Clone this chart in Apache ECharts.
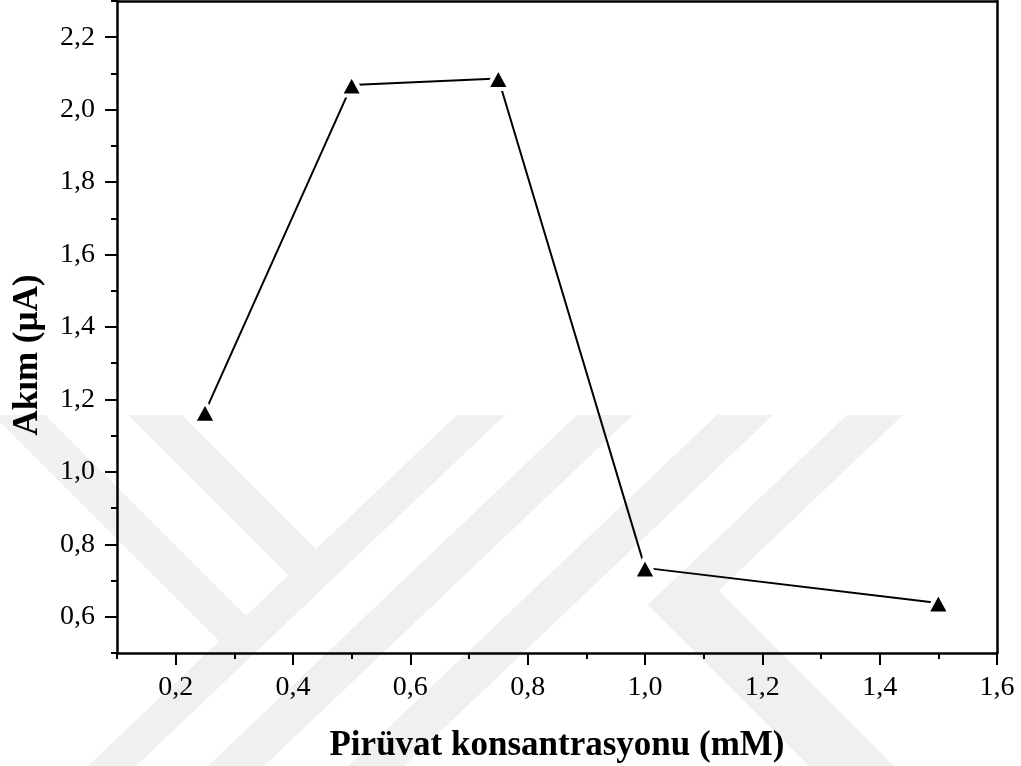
<!DOCTYPE html>
<html>
<head>
<meta charset="utf-8">
<title>Pirüvat konsantrasyonu – Akım</title>
<script src="https://cdn.jsdelivr.net/npm/echarts@6.0.0/dist/echarts.min.js"></script>
<style>
  html, body { margin: 0; padding: 0; background: #fff; }
  #chart { width: 1021px; height: 766px; }
</style>
</head>
<body>
<div id="chart"></div>
<script>
// Pyruvate concentration (mM) and measured current (µA)
const concentration = [0.25, 0.5, 0.75, 1.0, 1.5];
const current = [1.165, 2.068, 2.086, 0.735, 0.638];

// Axis ranges and labelled tick values
const xRange = [0.1, 1.6];
const yRange = [0.5, 2.3];
const xTickLabels = [0.2, 0.4, 0.6, 0.8, 1.0, 1.2, 1.4, 1.6];
const yTickLabels = [0.6, 0.8, 1.0, 1.2, 1.4, 1.6, 1.8, 2.0, 2.2];

const FONT = 'Liberation Serif, "Times New Roman", serif';
const INK = '#000';
const WM = '#f0f0f0';

// Plot frame in pixels
const frame = { left: 117, right: 997, top: 1, bottom: 653 };
const pxX = v => frame.left + (v - xRange[0]) / (xRange[1] - xRange[0]) * (frame.right - frame.left);
const pxY = v => frame.bottom - (v - yRange[0]) / (yRange[1] - yRange[0]) * (frame.bottom - frame.top);

const fmt = v => v.toFixed(1).replace('.', ',');

const xMajor = [xTickLabels[0], xTickLabels[xTickLabels.length - 1]];
const yMajor = [yTickLabels[0], yTickLabels[yTickLabels.length - 1]];

const chart = echarts.init(document.getElementById('chart'), null, { renderer: 'canvas' });

// Light watermark bands in the lower half of the page
const bands = [
  [[-7, 415], [45, 415], [246, 616], [219.3, 641.3]],
  [[128, 415], [182, 415], [316.1, 549.1], [288.5, 575.5]],
  [[457, 415], [505, 415], [136, 766], [88, 766]],
  [[577, 415], [633, 415], [264, 766], [208, 766]],
  [[717, 415], [773, 415], [404, 766], [348, 766]],
  [[847, 415], [903, 415], [675.1, 632.1], [647.8, 604.8]],
  [[675.1, 632.1], [718.6, 590.6], [894, 766], [809, 766]]
];

const option = {
  backgroundColor: '#fff',
  animation: false,
  graphic: bands.map(pts => ({
    type: 'polygon',
    silent: true,
    z: -100,
    shape: { points: pts },
    style: { fill: WM }
  })),
  grid: [
    // main plotting frame
    { left: frame.left, top: frame.top, width: frame.right - frame.left, height: frame.bottom - frame.top, outerBoundsMode: 'none', containLabel: false },
    // frame used for the labelled y ticks
    { left: frame.left, top: pxY(yMajor[1]), width: frame.right - frame.left, height: pxY(yMajor[0]) - pxY(yMajor[1]), outerBoundsMode: 'none', containLabel: false },
    // frame used for the labelled x ticks
    { left: pxX(xMajor[0]), top: frame.top, width: pxX(xMajor[1]) - pxX(xMajor[0]), height: frame.bottom - frame.top, outerBoundsMode: 'none', containLabel: false }
  ],
  xAxis: [
    {
      gridIndex: 0, type: 'value', position: 'bottom',
      min: xRange[0], max: xRange[1], interval: 0.1,
      axisLine: { show: true, onZero: false, lineStyle: { color: INK, width: 2.5 } },
      axisTick: { show: true, inside: false, length: 6, lineStyle: { color: INK, width: 2 } },
      axisLabel: { show: false },
      splitLine: { show: false },
      name: 'Pirüvat konsantrasyonu (mM)',
      nameLocation: 'middle',
      nameGap: 75,
      nameTextStyle: { fontFamily: FONT, fontSize: 35, fontWeight: 'bold', color: INK }
    },
    {
      gridIndex: 0, type: 'value', position: 'top',
      min: xRange[0], max: xRange[1], interval: 0.1,
      axisLine: { show: true, onZero: false, lineStyle: { color: INK, width: 2.5 } },
      axisTick: { show: false }, axisLabel: { show: false }, splitLine: { show: false }
    },
    {
      gridIndex: 1, type: 'value', show: false,
      min: xRange[0], max: xRange[1]
    },
    {
      gridIndex: 2, type: 'value', position: 'bottom',
      min: xMajor[0], max: xMajor[1], interval: 0.2,
      axisLine: { show: false, onZero: false },
      axisTick: { show: true, inside: false, length: 12, lineStyle: { color: INK, width: 2 } },
      axisLabel: { show: true, margin: 21, color: INK, fontFamily: FONT, fontSize: 28, formatter: fmt },
      splitLine: { show: false }
    }
  ],
  yAxis: [
    {
      gridIndex: 0, type: 'value', position: 'left',
      min: yRange[0], max: yRange[1], interval: 0.1,
      axisLine: { show: true, onZero: false, lineStyle: { color: INK, width: 2.5 } },
      axisTick: { show: true, inside: false, length: 6, lineStyle: { color: INK, width: 2 } },
      axisLabel: { show: false },
      splitLine: { show: false },
      name: 'Akım (µA)',
      nameLocation: 'middle',
      nameGap: 72,
      nameTextStyle: { fontFamily: FONT, fontSize: 35, fontWeight: 'bold', color: INK, padding: [0, 56, 0, 0] }
    },
    {
      gridIndex: 0, type: 'value', position: 'right',
      min: yRange[0], max: yRange[1], interval: 0.1,
      axisLine: { show: true, onZero: false, lineStyle: { color: INK, width: 2.5 } },
      axisTick: { show: false }, axisLabel: { show: false }, splitLine: { show: false }
    },
    {
      gridIndex: 1, type: 'value', position: 'left',
      min: yMajor[0], max: yMajor[1], interval: 0.2,
      axisLine: { show: false, onZero: false },
      axisTick: { show: true, inside: false, length: 12, lineStyle: { color: INK, width: 2 } },
      axisLabel: { show: true, margin: 22, color: INK, fontFamily: FONT, fontSize: 28, formatter: fmt },
      splitLine: { show: false }
    },
    {
      gridIndex: 2, type: 'value', show: false,
      min: yRange[0], max: yRange[1]
    }
  ],
  series: [
    {
      type: 'line',
      xAxisIndex: 0,
      yAxisIndex: 0,
      data: concentration.map((c, i) => [c, current[i]]),
      symbol: 'triangle',
      symbolSize: [23, 21],
      showSymbol: true,
      clip: false,
      lineStyle: { color: INK, width: 2 },
      itemStyle: { color: INK, borderColor: '#fff', borderWidth: 4 },
      emphasis: { disabled: true },
      z: 5
    }
  ]
};

chart.setOption(option);
</script>
</body>
</html>
